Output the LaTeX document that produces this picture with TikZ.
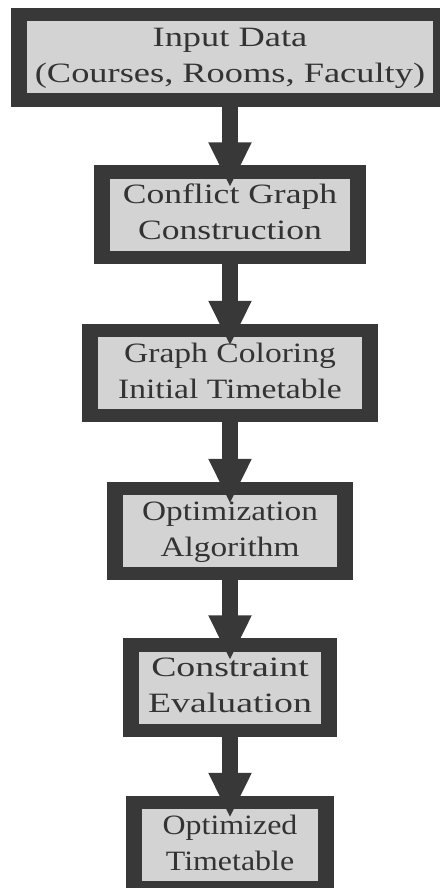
\documentclass[tikz,border=0pt]{standalone}
\usepackage{fontspec}
\setmainfont{Liberation Serif}
\usetikzlibrary{arrows.meta,backgrounds}
\definecolor{dk}{HTML}{383838}
\definecolor{bx}{HTML}{D3D3D3}
\definecolor{tx}{HTML}{333333}
\newcommand\stx[2]{\scalebox{#1}[1]{\begin{tabular}{@{}c@{}}#2\end{tabular}}}
\begin{document}
\begin{tikzpicture}[x=1pt,y=-1pt,
  box/.style={fill=bx, inner sep=0pt, minimum height=71pt, text=tx,
    font=\fontsize{28}{36}\selectfont},
  flow/.style={draw=dk, line width=15.6pt, -{Triangle[width=40pt,length=45pt]}}]
\useasboundingbox (0,0) rectangle (439,888);
\node[box, minimum width=406pt] (b1) at (230,57.5) {\stx{1.3}{Input Data\\(Courses, Rooms, Faculty)}};
\node[box, minimum width=240pt] (b2) at (230,214.5) {\stx{1.27}{Conflict Graph\\Construction}};
\node[box, minimum width=264pt] (b3) at (230,373) {\stx{1.2}{Graph Coloring\\Initial Timetable}};
\node[box, minimum width=214pt] (b4) at (230,531) {\stx{1.19}{Optimization\\Algorithm}};
\node[box, minimum width=182pt] (b5) at (230,687.5) {\stx{1.35}{Constraint\\Evaluation}};
\node[box, minimum width=176pt] (b6) at (230,845) {\stx{1.14}{Optimized\\Timetable}};
\begin{scope}[on background layer]
  \foreach \n in {b1,b2,b3,b4,b5,b6}
    \fill[dk] ([shift={(-16,-13)}]\n.north west) rectangle ([shift={(16,13)}]\n.south east);
\end{scope}
\draw[flow] ([yshift=-13pt]b1.south) -- ([yshift=-9pt]b2.north);
\draw[flow] ([yshift=-13pt]b2.south) -- ([yshift=-9pt]b3.north);
\draw[flow] ([yshift=-13pt]b3.south) -- ([yshift=-9pt]b4.north);
\draw[flow] ([yshift=-13pt]b4.south) -- ([yshift=-9pt]b5.north);
\draw[flow] ([yshift=-13pt]b5.south) -- ([yshift=-9pt]b6.north);
\end{tikzpicture}
\end{document}
